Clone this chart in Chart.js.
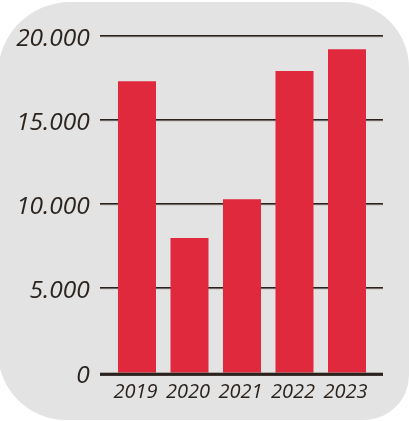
<!DOCTYPE html>
<html>
<head>
<meta charset="utf-8">
<script src="https://cdn.jsdelivr.net/npm/chart.js@4/dist/chart.umd.min.js"></script>
<style>
  html, body { margin: 0; padding: 0; background: #ffffff; }
  #wrap { width: 409px; height: 421px; }
</style>
</head>
<body>
<div id="wrap"><canvas id="c" width="409" height="421"></canvas></div>
<script>
const categories = ['2019', '2020', '2021', '2022', '2023'];
const values = [17300, 8000, 10300, 17900, 19200];
const yTicks = [0, 5000, 10000, 15000, 20000];

const textColor = '#2b231e';
const lineColor = '#2b221d';
const barColor = '#e0293c';

function fmt(v) {
  return String(v).replace(/\B(?=(\d{3})+(?!\d))/g, '.');
}

const bgPlugin = {
  id: 'bg',
  beforeDraw(chart) {
    const ctx = chart.ctx;
    ctx.save();
    ctx.fillStyle = '#e3e3e3';
    ctx.beginPath();
    ctx.roundRect(-2, 2, 411, 418, [72, 66, 45, 68]);
    ctx.fill();
    ctx.restore();
  }
};

const gridPlugin = {
  id: 'grid',
  beforeDatasetsDraw(chart) {
    const ctx = chart.ctx, y = chart.scales.y, a = chart.chartArea;
    const x0 = a.left - 10.75, x1 = a.right + 9.75;
    ctx.save();
    y.ticks.forEach(t => {
      if (t.value === 0) return;
      const py = Math.round(y.getPixelForValue(t.value));
      ctx.fillStyle = '#c4c2c0';
      ctx.fillRect(x0, py + 0.5, x1 - x0, 1);
      ctx.fillStyle = lineColor;
      ctx.fillRect(x0, py - 1, x1 - x0, 1.6);
    });
    ctx.restore();
  },
  afterDatasetsDraw(chart) {
    const ctx = chart.ctx, y = chart.scales.y, a = chart.chartArea;
    const x0 = a.left - 10.75, x1 = a.right + 9.75;
    const py = y.getPixelForValue(0);
    ctx.save();
    ctx.fillStyle = lineColor;
    ctx.fillRect(x0, py, x1 - x0, 3.2);
    ctx.restore();
  }
};

new Chart(document.getElementById('c'), {
  type: 'bar',
  data: {
    labels: categories,
    datasets: [{
      data: values,
      backgroundColor: barColor,
      borderWidth: 0,
      categoryPercentage: 0.8,
      barPercentage: 0.905
    }]
  },
  options: {
    responsive: false,
    animation: false,
    events: [],
    layout: { padding: { left: 0, right: 35.75, top: 35, bottom: 0 } },
    plugins: { legend: { display: false }, tooltip: { enabled: false } },
    scales: {
      x: {
        offset: true,
        grid: { display: false, drawTicks: false },
        border: { display: false },
        ticks: {
          color: textColor,
          font: { family: 'Open Sans', style: 'italic', size: 20 },
          padding: 8,
          labelOffset: -1.5,
          maxRotation: 0
        },
        afterFit(scale) { scale.height = 48.3; }
      },
      y: {
        min: 0,
        max: 20000,
        afterBuildTicks(scale) { scale.ticks = yTicks.map(v => ({ value: v })); },
        grid: { display: false, drawTicks: false },
        border: { display: false },
        ticks: {
          color: textColor,
          font: { family: 'Open Sans', style: 'italic', size: 24.5 },
          padding: 21,
          labelOffset: 3,
          callback: v => fmt(v)
        },
        afterFit(scale) { scale.width = 110.75; }
      }
    }
  },
  plugins: [bgPlugin, gridPlugin]
});
</script>
</body>
</html>
